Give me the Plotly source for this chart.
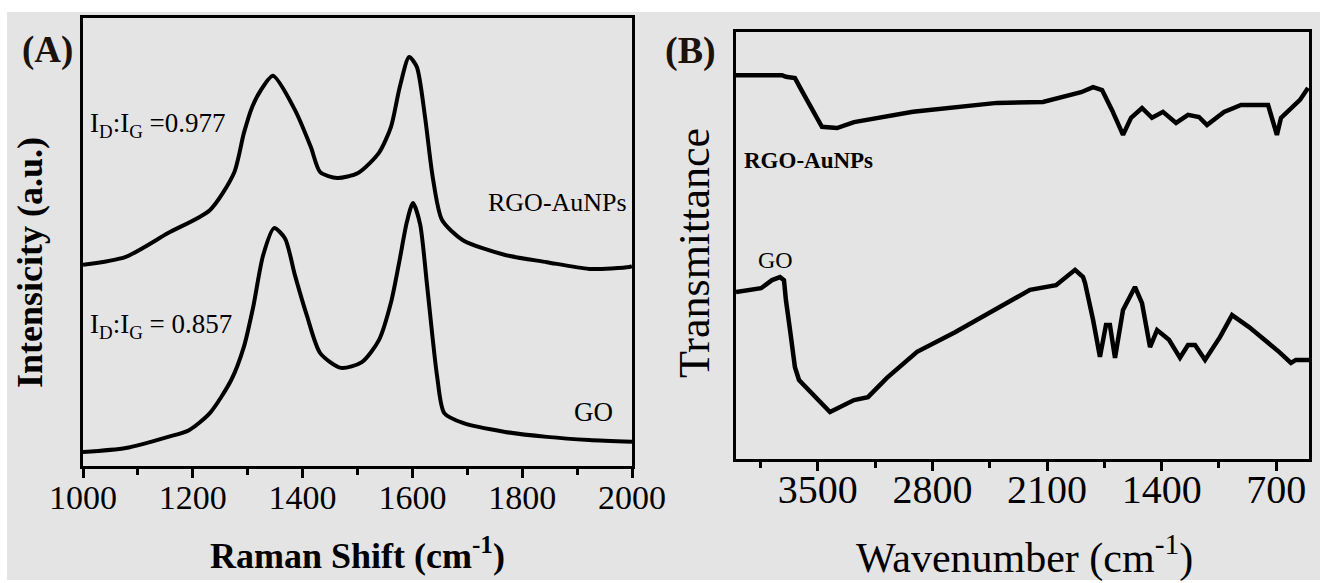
import plotly.graph_objects as go

# ---------------- Panel A: Raman ----------------
raman_rgo_x = [1000, 1078, 1155, 1231, 1275, 1293, 1308, 1324, 1346, 1386, 1415, 1432, 1463, 1501,
               1539, 1561, 1577, 1594, 1608, 1623, 1637, 1654, 1692, 1769, 1845, 1922, 1995, 2000]
raman_rgo_y = [44.9, 46.7, 52.0, 57.1, 65.4, 74.3, 80.1, 83.9, 87.1, 79.5, 71.2, 65.6, 64.3, 65.4,
               69.9, 75.7, 84.6, 91.3, 89.1, 77.9, 64.5, 54.9, 50.4, 47.1, 45.5, 44.0, 44.4, 44.6]

raman_go_x = [1000, 1078, 1155, 1193, 1231, 1270, 1293, 1310, 1328, 1348, 1368, 1386, 1408,
              1432, 1470, 1508, 1539, 1561, 1576, 1590, 1601, 1614, 1627, 1645, 1658, 1692, 1769,
              1845, 1922, 2000]
raman_go_y = [3.1, 4.0, 6.5, 8.0, 11.8, 19.2, 26.6, 35.5, 47.0, 53.1, 50.8, 42.6, 33.5,
              25.2, 21.9, 23.2, 28.1, 36.5, 45.5, 54.5, 58.7, 54.0, 40.0, 20.0, 11.8, 9.6, 7.6,
              6.5, 5.8, 5.4]

# ---------------- Panel B: FTIR ----------------
ftir_rgo_x = [4000, 3719, 3695, 3640, 3590, 3475, 3383, 3279, 2919, 2406, 2125, 1892, 1819, 1764,
              1703, 1636, 1587, 1520, 1459, 1392, 1312, 1239, 1172, 1123, 1019, 915, 750, 726,
              696, 671, 634, 555, 506]
ftir_rgo_y = [89.9, 89.9, 89.5, 89.2, 85.7, 77.8, 77.5, 78.9, 81.3, 83.4, 83.6, 85.9, 87.1, 86.4,
              81.7, 75.9, 79.9, 82.2, 79.9, 81.3, 78.7, 80.6, 80.1, 78.2, 81.3, 82.9, 82.9, 79.4,
              75.9, 79.9, 81.3, 84.1, 86.9]

ftir_go_x = [4000, 3847, 3780, 3731, 3707, 3695, 3670, 3640, 3615, 3536, 3426, 3279, 3194, 3078,
             2894, 2662, 2406, 2204, 2045, 1929, 1880, 1868, 1819, 1777, 1740, 1716, 1685, 1636,
             1563, 1520, 1471, 1428, 1355, 1288, 1239, 1196, 1135, 1043, 970, 866, 683, 610,
             580, 500]
ftir_go_y = [39.1, 40.0, 41.9, 42.6, 41.9, 37.2, 30.2, 21.5, 18.5, 15.5, 11.0, 13.8, 14.5, 19.0,
             25.1, 29.7, 35.4, 39.6, 40.7, 44.3, 42.6, 41.2, 32.6, 23.9, 31.4, 31.4, 23.7, 34.9,
             40.3, 36.5, 26.2, 30.2, 27.9, 23.7, 26.7, 26.7, 23.2, 28.6, 33.7, 30.9, 25.1, 22.5,
             23.2, 23.2]

W, H = 1320, 583
BG = "#e4e4e4"
SERIF = "Liberation Serif, Times New Roman, serif"


def px(x):
    return x / W


def py(y):
    return 1 - y / H


fig = go.Figure()
line_a = dict(color="black", width=4, shape="spline", smoothing=0.7)
line_b = dict(color="black", width=4.5)
fig.add_trace(go.Scatter(x=raman_rgo_x, y=raman_rgo_y, mode="lines", line=line_a,
                         xaxis="x", yaxis="y", showlegend=False))
fig.add_trace(go.Scatter(x=raman_go_x, y=raman_go_y, mode="lines", line=line_a,
                         xaxis="x", yaxis="y", showlegend=False))
fig.add_trace(go.Scatter(x=ftir_rgo_x, y=ftir_rgo_y, mode="lines", line=line_b,
                         xaxis="x2", yaxis="y2", showlegend=False))
fig.add_trace(go.Scatter(x=ftir_go_x, y=ftir_go_y, mode="lines", line=line_b,
                         xaxis="x2", yaxis="y2", showlegend=False))

axis_common = dict(showline=True, linecolor="black", linewidth=2.5, mirror=True,
                   showgrid=False, zeroline=False, automargin=False)

fig.update_layout(
    template="none",
    width=W, height=H, autosize=False,
    margin=dict(l=0, r=0, t=0, b=0, pad=0, autoexpand=False),
    paper_bgcolor="white",
    plot_bgcolor=BG,
    showlegend=False,
    xaxis=dict(domain=[px(83), px(632)], range=[1000, 2000], anchor="y",
               tickmode="linear", tick0=1000, dtick=200,
               ticks="outside", ticklen=9, tickwidth=2.5, tickcolor="black",
               ticklabelstandoff=-10,
               minor=dict(dtick=100, ticks="outside", ticklen=6, tickwidth=2.5, tickcolor="black"),
               tickfont=dict(family=SERIF, size=34, color="black"),
               **axis_common),
    yaxis=dict(domain=[py(466), py(18)], range=[0, 100], anchor="x",
               showticklabels=False, ticks="", **axis_common),
    xaxis2=dict(domain=[px(736), px(1309)], range=[4000, 500], anchor="y2",
                tickmode="linear", tick0=0, dtick=700,
                ticks="outside", ticklen=9, tickwidth=2.5, tickcolor="black",
                ticklabelstandoff=-16,
                minor=dict(dtick=350, ticks="outside", ticklen=6, tickwidth=2.5, tickcolor="black"),
                tickfont=dict(family=SERIF, size=40, color="black"),
                **axis_common),
    yaxis2=dict(domain=[py(459), py(32)], range=[0, 100], anchor="x2",
                showticklabels=False, ticks="", **axis_common),
    shapes=[dict(type="rect", xref="paper", yref="paper", x0=px(7), x1=1.0,
                 y0=py(580), y1=py(12), fillcolor=BG, line=dict(width=0), layer="below")],
)


def ann(text, x, y, size, bold=False, xanchor="center", angle=0, color="black"):
    t = f"<b>{text}</b>" if bold else text
    fig.add_annotation(text=t, x=px(x), y=py(y), xref="paper", yref="paper",
                       xanchor=xanchor, yanchor="middle", showarrow=False, textangle=angle,
                       font=dict(family=SERIF, size=size, color=color))


ann("(A)", 47, 50, 37, bold=True, color="#1b1209")
ann("(B)", 690, 51, 38, bold=True, color="#1b1209")
ann("Intensicity (a.u.)", 30, 263, 36, bold=True, angle=-90)
ann("Transmittance", 694, 253, 44, angle=-90)
ann("Raman Shift (cm<sup>-1</sup>)", 357, 553, 36, bold=True)
ann("Wavenumber (cm<sup>-1</sup>)", 1024, 555, 42)
ann("I<sub>D</sub>:I<sub>G</sub> =0.977", 88, 125, 27, xanchor="left")
ann("I<sub>D</sub>:I<sub>G</sub> = 0.857", 88, 326, 27, xanchor="left")
ann("RGO-AuNPs", 629, 203, 26, xanchor="right")
ann("GO", 593, 412, 27)
ann("RGO-AuNPs", 742, 160, 23, bold=True, xanchor="left")
ann("GO", 756, 260, 24, xanchor="left")

fig.write_html("out.html")
